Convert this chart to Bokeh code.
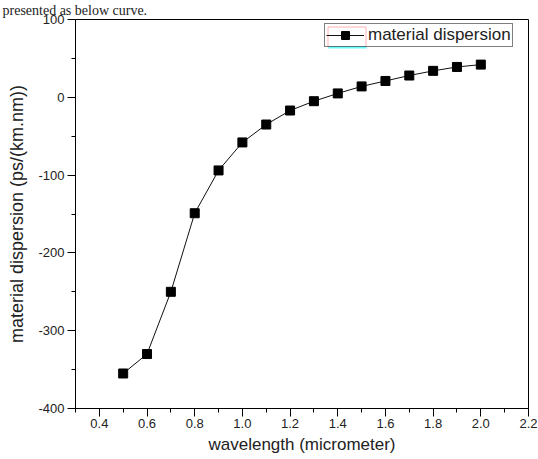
from bokeh.plotting import figure
from bokeh.models import (Range1d, FixedTicker, PrintfTickFormatter, Legend, LegendItem,
                          BoxAnnotation, Title)
from bokeh.embed import file_html
from bokeh.resources import INLINE

# data
wavelength = [0.5, 0.6, 0.7, 0.8, 0.9, 1.0, 1.1, 1.2, 1.3, 1.4, 1.5, 1.6, 1.7, 1.8, 1.9, 2.0]
dispersion = [-355, -330, -250, -149, -94, -58, -35, -17, -5, 5, 14, 21, 28, 34, 39, 42]
x_ticks = [0.4, 0.6, 0.8, 1.0, 1.2, 1.4, 1.6, 1.8, 2.0, 2.2]
x_minor = [0.3, 0.5, 0.7, 0.9, 1.1, 1.3, 1.5, 1.7, 1.9, 2.1]
y_ticks = [-400, -300, -200, -100, 0, 100]
y_minor = [-350, -250, -150, -50, 50]

FONT = "Liberation Sans"
p = figure(width=538, height=459, output_backend="svg", toolbar_location=None,
           x_range=Range1d(0.3, 2.2), y_range=Range1d(-400, 100),
           min_border_left=75, min_border_right=10, min_border_top=19, min_border_bottom=51)
p.background_fill_color = "white"
p.border_fill_color = "white"
p.outline_line_color = "black"
p.outline_line_width = 1
p.outline_line_alpha = 1
p.xgrid.visible = False
p.ygrid.visible = False

p.title = Title(text="presented as below curve.", align="left", offset=-73,
                standoff=0, vertical_align="top",
                text_font="Liberation Serif", text_font_size="14px",
                text_font_style="normal", text_color="#222222")

for ax in (p.xaxis[0], p.yaxis[0]):
    ax.axis_line_color = "black"
    ax.major_tick_line_color = "black"
    ax.minor_tick_line_color = "black"
    ax.major_tick_out = 8
    ax.major_tick_in = 0
    ax.minor_tick_out = 4
    ax.minor_tick_in = 0
    ax.major_label_text_font = FONT
    ax.major_label_text_font_size = "13px"
    ax.major_label_text_color = "#222222"
    ax.axis_label_text_font = FONT
    ax.axis_label_text_font_style = "normal"
    ax.axis_label_text_color = "#222222"

p.xaxis[0].ticker = FixedTicker(ticks=x_ticks, minor_ticks=x_minor)
p.xaxis[0].formatter = PrintfTickFormatter(format="%.1f")
p.xaxis[0].axis_label = "wavelength (micrometer)"
p.xaxis[0].axis_label_text_font_size = "17px"
p.xaxis[0].major_label_standoff = 2
p.xaxis[0].axis_label_standoff = 4
p.yaxis[0].ticker = FixedTicker(ticks=y_ticks, minor_ticks=y_minor)
p.yaxis[0].formatter = PrintfTickFormatter(format="%d")
p.yaxis[0].axis_label = "material dispersion (ps/(km.nm))"
p.yaxis[0].axis_label_text_font_size = "18px"
p.yaxis[0].major_label_standoff = 3
p.yaxis[0].axis_label_standoff = 8

line = p.line(wavelength, dispersion, line_color="#111111", line_width=1)
pts = p.scatter(wavelength, dispersion, marker="square", size=9,
                fill_color="black", line_color="black")

legend = Legend(items=[LegendItem(label="material dispersion", renderers=[line, pts])],
                location=(249, 361), border_line_color="black", border_line_width=1,
                background_fill_color="white", background_fill_alpha=0,
                label_text_font=FONT, label_text_font_size="17px", label_text_color="#222222",
                glyph_width=38, glyph_height=20, label_height=20, label_standoff=4,
                padding=1, spacing=0, margin=0)
p.add_layout(legend, "center")

# Origin-style highlight around the legend symbol (canvas units, y from top)
p.add_layout(BoxAnnotation(left=327.5, right=365.5, top=26.5, bottom=46.5,
                           left_units="canvas", right_units="canvas",
                           bottom_units="canvas", top_units="canvas",
                           fill_alpha=0, line_color="red", line_width=1, level="overlay"))
p.add_layout(BoxAnnotation(left=328, right=366, top=46, bottom=48,
                           left_units="canvas", right_units="canvas",
                           bottom_units="canvas", top_units="canvas",
                           fill_color="#66ffff", fill_alpha=1, line_alpha=0, level="overlay"))

open("out.html", "w").write(file_html(p, INLINE))
